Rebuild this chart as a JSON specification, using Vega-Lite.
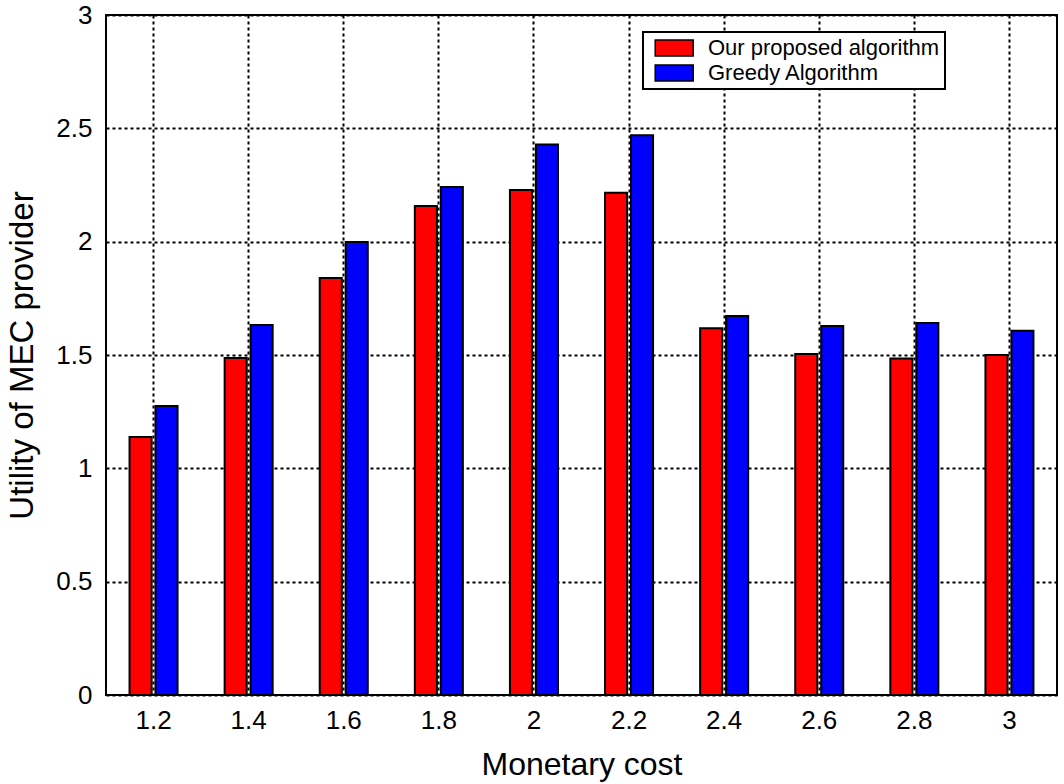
{
  "$schema": "https://vega.github.io/schema/vega-lite/v6.json",
  "width": 951,
  "height": 680,
  "autosize": {"type": "none"},
  "padding": {"left": 106, "top": 15, "right": 7, "bottom": 89},
  "background": "white",
  "config": {
    "font": "Liberation Sans",
    "view": {"stroke": "black", "strokeWidth": 2},
    "axis": {
      "domain": false,
      "grid": true,
      "gridColor": "black",
      "gridOpacity": 1,
      "gridWidth": 2,
      "gridDash": [3, 3],
      "ticks": false,
      "labelFont": "Liberation Sans",
      "labelFontSize": 26,
      "labelColor": "black",
      "titleFont": "Liberation Sans",
      "titleFontSize": 32,
      "titleFontWeight": "normal",
      "titleColor": "black"
    }
  },
  "data": {
    "values": [
      {"cost": "1.2", "series": "Our proposed algorithm", "value": 1.138},
      {"cost": "1.2", "series": "Greedy Algorithm", "value": 1.275},
      {"cost": "1.4", "series": "Our proposed algorithm", "value": 1.487},
      {"cost": "1.4", "series": "Greedy Algorithm", "value": 1.632},
      {"cost": "1.6", "series": "Our proposed algorithm", "value": 1.84},
      {"cost": "1.6", "series": "Greedy Algorithm", "value": 1.998},
      {"cost": "1.8", "series": "Our proposed algorithm", "value": 2.157},
      {"cost": "1.8", "series": "Greedy Algorithm", "value": 2.241},
      {"cost": "2", "series": "Our proposed algorithm", "value": 2.228},
      {"cost": "2", "series": "Greedy Algorithm", "value": 2.429},
      {"cost": "2.2", "series": "Our proposed algorithm", "value": 2.216},
      {"cost": "2.2", "series": "Greedy Algorithm", "value": 2.47},
      {"cost": "2.4", "series": "Our proposed algorithm", "value": 1.618},
      {"cost": "2.4", "series": "Greedy Algorithm", "value": 1.672},
      {"cost": "2.6", "series": "Our proposed algorithm", "value": 1.504},
      {"cost": "2.6", "series": "Greedy Algorithm", "value": 1.628},
      {"cost": "2.8", "series": "Our proposed algorithm", "value": 1.485},
      {"cost": "2.8", "series": "Greedy Algorithm", "value": 1.641},
      {"cost": "3", "series": "Our proposed algorithm", "value": 1.5},
      {"cost": "3", "series": "Greedy Algorithm", "value": 1.607}
    ]
  },
  "mark": {"type": "bar", "stroke": "black", "strokeWidth": 2, "opacity": 1},
  "encoding": {
    "x": {
      "field": "cost",
      "type": "ordinal",
      "sort": null,
      "scale": {"paddingInner": 0.495, "paddingOuter": 0.2475},
      "axis": {"title": "Monetary cost", "labelAngle": 0, "labelPadding": 12, "titlePadding": 16, "bandPosition": 0.5}
    },
    "xOffset": {
      "field": "series",
      "type": "nominal",
      "sort": ["Our proposed algorithm", "Greedy Algorithm"],
      "scale": {"paddingInner": 0.15, "paddingOuter": 0}
    },
    "y": {
      "field": "value",
      "type": "quantitative",
      "scale": {"domain": [0, 3], "nice": false},
      "axis": {"title": "Utility of MEC provider", "values": [0, 0.5, 1, 1.5, 2, 2.5, 3], "format": "~g", "labelPadding": 14, "titlePadding": 16, "titleFontSize": 33}
    },
    "color": {
      "field": "series",
      "type": "nominal",
      "sort": ["Our proposed algorithm", "Greedy Algorithm"],
      "scale": {"domain": ["Our proposed algorithm", "Greedy Algorithm"], "range": ["#ff0000", "#0000ff"]},
      "legend": {
        "title": null,
        "orient": "none",
        "legendX": 537,
        "legendY": 17,
        "direction": "vertical",
        "fillColor": "white",
        "strokeColor": "black",
        "padding": 5,
        "symbolType": "M-0.4,-0.84H3.6V0.84H-0.4Z",
        "symbolSize": 361,
        "symbolStrokeColor": "black",
        "symbolStrokeWidth": 1.5,
        "symbolOpacity": 1,
        "labelFont": "Liberation Sans",
        "labelFontSize": 22,
        "labelColor": "black",
        "labelOffset": 38,
        "rowPadding": 3,
        "labelLimit": 400,
        "encode": {"legend": {"update": {"strokeWidth": {"value": 2}}}}
      }
    }
  }
}
